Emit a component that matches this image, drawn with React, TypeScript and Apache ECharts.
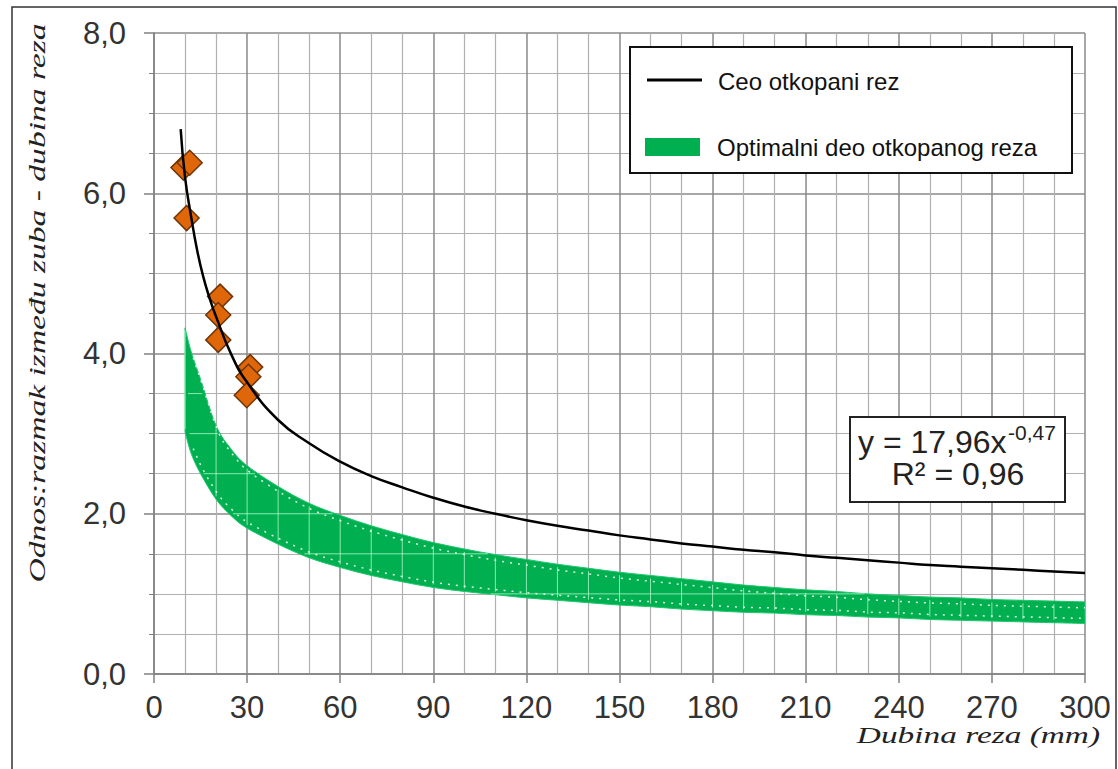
import React, { useEffect, useRef } from "react";
import * as echarts from "echarts";

// ---- Data ----
const curveX = [8.6, 10, 12, 14, 16, 18, 20, 25, 30, 40, 50, 60, 70, 80, 90, 100, 110, 120, 130, 140, 150, 160, 170, 180, 190, 200, 210, 220, 230, 240, 250, 260, 270, 280, 290, 300];
const curveY = [6.8, 6.2, 5.7, 5.27, 4.94, 4.68, 4.46, 3.98, 3.64, 3.17, 2.88, 2.65, 2.47, 2.33, 2.2, 2.09, 2.0, 1.92, 1.85, 1.79, 1.73, 1.68, 1.63, 1.59, 1.55, 1.52, 1.48, 1.45, 1.42, 1.39, 1.36, 1.34, 1.32, 1.3, 1.28, 1.26];

const bandX = [10, 12, 15, 20, 25, 30, 40, 50, 60, 70, 80, 90, 100, 110, 120, 130, 140, 150, 160, 170, 180, 190, 200, 210, 220, 230, 240, 250, 260, 270, 280, 290, 300];
const bandUpper = [4.32, 4.02, 3.68, 3.1, 2.8, 2.6, 2.34, 2.13, 1.98, 1.85, 1.74, 1.64, 1.56, 1.49, 1.43, 1.37, 1.32, 1.27, 1.23, 1.19, 1.15, 1.11, 1.08, 1.05, 1.03, 1.0, 0.98, 0.96, 0.95, 0.93, 0.92, 0.91, 0.9];
const bandLower = [3.02, 2.75, 2.5, 2.18, 1.97, 1.82, 1.62, 1.45, 1.33, 1.23, 1.15, 1.08, 1.03, 0.99, 0.95, 0.92, 0.89, 0.86, 0.84, 0.81, 0.79, 0.77, 0.76, 0.74, 0.73, 0.71, 0.7, 0.68, 0.67, 0.66, 0.65, 0.64, 0.63];

const measX = [9.5, 11.5, 10.5, 21.3, 20.7, 20.7, 31, 30.4, 29.9];
const measY = [6.32, 6.38, 5.69, 4.71, 4.48, 4.17, 3.83, 3.71, 3.48];

const legendLine = "Ceo otkopani rez";
const legendBand = "Optimalni deo otkopanog reza";
const eqMain = "y = 17,96x";
const eqExp = "-0,47";
const eqR2 = "R² = 0,96";
const xTitle = "Dubina reza (mm)";
const yTitle = "Odnos:razmak između zuba - dubina reza";

function smoothPath(pts: number[][], move: boolean): string {
  let d = (move ? "M" : "L") + pts[0][0] + "," + pts[0][1];
  for (let i = 0; i < pts.length - 1; i++) {
    const p0 = pts[i - 1] || pts[i];
    const p1 = pts[i];
    const p2 = pts[i + 1];
    const p3 = pts[i + 2] || p2;
    const c1 = [p1[0] + (p2[0] - p0[0]) / 6, p1[1] + (p2[1] - p0[1]) / 6];
    const c2 = [p2[0] - (p3[0] - p1[0]) / 6, p2[1] - (p3[1] - p1[1]) / 6];
    d += " C" + c1[0] + "," + c1[1] + " " + c2[0] + "," + c2[1] + " " + p2[0] + "," + p2[1];
  }
  return d;
}

function interp(xs: number[], ys: number[], x: number): number {
  if (x <= xs[0]) return ys[0];
  for (let i = 0; i < xs.length - 1; i++) {
    if (x <= xs[i + 1]) {
      const t = (x - xs[i]) / (xs[i + 1] - xs[i]);
      return ys[i] + t * (ys[i + 1] - ys[i]);
    }
  }
  return ys[ys.length - 1];
}

const SANS = "'Liberation Sans', Arial, sans-serif";
const SERIF = "'Liberation Serif', 'Times New Roman', serif";

export default function App() {
  const ref = useRef<HTMLDivElement>(null);
  useEffect(() => {
    document.body.style.margin = "0";
    if (!ref.current) return;
    const chart = echarts.init(ref.current, null, { renderer: "svg" });
    const gridColorMinor = "#b0b0b0";
    const gridColorMajor = "#8a8a8a";
    const option: any = {
      animation: false,
      backgroundColor: "#fff",
      grid: { left: 154, right: 33, top: 33, bottom: 95, containLabel: false },
      xAxis: {
        type: "value",
        min: 0,
        max: 300,
        interval: 30,
        axisLine: { show: true, onZero: false, lineStyle: { color: "#808080", width: 1.5 } },
        axisTick: { show: true, length: 9, lineStyle: { color: "#808080", width: 1.5 } },
        axisLabel: { fontSize: 31, fontFamily: SANS, color: "#333", margin: 18 },
        splitLine: { show: true, lineStyle: { color: gridColorMajor, width: 1.5 } },
        minorTick: { show: false, splitNumber: 3 },
        minorSplitLine: { show: true, lineStyle: { color: gridColorMinor, width: 1.2 } },
      },
      yAxis: {
        type: "value",
        min: 0,
        max: 8,
        interval: 2,
        axisLine: { show: true, lineStyle: { color: "#808080", width: 1.5 } },
        axisTick: { show: true, length: 10, lineStyle: { color: "#808080", width: 1.5 } },
        axisLabel: {
          fontSize: 31,
          fontFamily: SANS,
          color: "#333",
          margin: 28,
          formatter: (v: number) => v.toFixed(1).replace(".", ","),
        },
        splitLine: { show: true, lineStyle: { color: gridColorMajor, width: 1.5 } },
        minorTick: { show: true, splitNumber: 4, length: 5, lineStyle: { color: "#808080" } },
        minorSplitLine: { show: true, lineStyle: { color: gridColorMinor, width: 1.2 } },
      },
      series: [
        {
          type: "custom",
          name: legendBand,
          clip: true,
          z: 2,
          data: [0],
          renderItem: (params: any, api: any) => {
            const up = bandX.map((x, i) => api.coord([x, bandUpper[i]]));
            const lo = bandX.map((x, i) => api.coord([x, bandLower[i]]));
            const d = smoothPath(up, true) + " " + smoothPath(lo.slice().reverse(), false) + " Z";
            const children: any[] = [
              { type: "path", shape: { pathData: d }, style: { fill: "#00B050", stroke: "#1fc76e", lineWidth: 1 } },
            ];
            const light = "rgba(200,255,215,0.7)";
            for (let gx = 10; gx <= 290; gx += 10) {
              const yu = interp(bandX, bandUpper, gx);
              const yl = interp(bandX, bandLower, gx);
              const a = api.coord([gx, yu]);
              const b = api.coord([gx, yl]);
              children.push({
                type: "line",
                shape: { x1: a[0], y1: a[1] + 3, x2: b[0], y2: b[1] - 3 },
                style: { stroke: light, lineWidth: 1 },
              });
            }
            for (let gy = 0.5; gy <= 4.5; gy += 0.5) {
              let minX = Infinity;
              let maxX = -Infinity;
              for (let sx = 10; sx <= 300; sx += 0.5) {
                const yu = interp(bandX, bandUpper, sx);
                const yl = interp(bandX, bandLower, sx);
                if (gy <= yu && gy >= yl) {
                  if (sx < minX) minX = sx;
                  if (sx > maxX) maxX = sx;
                }
              }
              if (minX < maxX) {
                const a = api.coord([minX, gy]);
                const b = api.coord([maxX, gy]);
                children.push({
                  type: "line",
                  shape: { x1: a[0] + 3, y1: a[1], x2: b[0] - 3, y2: b[1] },
                  style: { stroke: light, lineWidth: 1 },
                });
              }
            }
            const upIn = up.slice(1).map((p: number[]) => [p[0] + 2, p[1] + 6]);
            const loIn = lo.slice(1).map((p: number[]) => [p[0] + 2, p[1] - 5]);
            children.push({
              type: "path",
              shape: { pathData: smoothPath(upIn, true) },
              style: { fill: "none", stroke: "rgba(255,255,255,0.85)", lineWidth: 1.5, lineDash: [2, 6] },
            });
            children.push({
              type: "path",
              shape: { pathData: smoothPath(loIn, true) },
              style: { fill: "none", stroke: "rgba(255,255,255,0.85)", lineWidth: 1.5, lineDash: [2, 6] },
            });
            return { type: "group", children };
          },
        },
        {
          type: "scatter",
          name: "Mereni podaci",
          z: 3,
          data: measX.map((x, i) => [x, measY[i]]),
          symbol: "diamond",
          symbolSize: 25,
          itemStyle: { color: "#E0660A", borderColor: "#6E3608", borderWidth: 1.5, opacity: 1 },
        },
        {
          type: "line",
          name: legendLine,
          z: 4,
          data: curveX.map((x, i) => [x, curveY[i]]),
          smooth: true,
          showSymbol: false,
          symbol: "none",
          lineStyle: { color: "#000", width: 2.5 },
        },
      ],
      graphic: [
        {
          type: "rect",
          z: 100,
          shape: { x: 12, y: 7, width: 1104, height: 775 },
          style: { fill: "none", stroke: "#333", lineWidth: 1.5 },
        },
        {
          type: "rect",
          z: 100,
          shape: { x: 630, y: 47, width: 442, height: 126 },
          style: { fill: "#fff", stroke: "#111", lineWidth: 2 },
        },
        {
          type: "line",
          z: 101,
          shape: { x1: 647, y1: 80, x2: 702, y2: 80 },
          style: { stroke: "#000", lineWidth: 3 },
        },
        {
          type: "text",
          z: 101,
          x: 718,
          y: 81,
          style: {
            text: legendLine,
            fontSize: 24,
            fontFamily: SANS,
            fill: "#111",
            textAlign: "left",
            align: "left",
            textVerticalAlign: "middle",
            verticalAlign: "middle",
          },
        },
        {
          type: "rect",
          z: 101,
          shape: { x: 645, y: 138, width: 55, height: 18 },
          style: { fill: "#00B050" },
        },
        {
          type: "text",
          z: 101,
          x: 717,
          y: 147,
          style: {
            text: legendBand,
            fontSize: 24,
            fontFamily: SANS,
            fill: "#111",
            textAlign: "left",
            align: "left",
            textVerticalAlign: "middle",
            verticalAlign: "middle",
          },
        },
        {
          type: "rect",
          z: 100,
          shape: { x: 850, y: 417, width: 215, height: 85 },
          style: { fill: "#fff", stroke: "#222", lineWidth: 2 },
        },
        {
          type: "text",
          z: 101,
          x: 858,
          y: 442,
          style: {
            text: eqMain,
            fontSize: 32,
            fontFamily: SANS,
            fill: "#222",
            textAlign: "left",
            align: "left",
            textVerticalAlign: "middle",
            verticalAlign: "middle",
          },
        },
        {
          type: "text",
          z: 101,
          x: 1008,
          y: 432,
          style: {
            text: eqExp,
            fontSize: 21,
            fontFamily: SANS,
            fill: "#222",
            textAlign: "left",
            align: "left",
            textVerticalAlign: "middle",
            verticalAlign: "middle",
          },
        },
        {
          type: "text",
          z: 101,
          x: 958,
          y: 474,
          style: {
            text: eqR2,
            fontSize: 32,
            fontFamily: SANS,
            fill: "#222",
            textAlign: "center",
            align: "center",
            textVerticalAlign: "middle",
            verticalAlign: "middle",
          },
        },
        {
          type: "text",
          z: 101,
          x: 1100,
          y: 735,
          scaleX: 1.45,
          style: {
            text: xTitle,
            fontSize: 23,
            fontStyle: "italic",
            fontFamily: SERIF,
            fill: "#222",
            textAlign: "right",
            align: "right",
            textVerticalAlign: "middle",
            verticalAlign: "middle",
          },
        },
        {
          type: "text",
          z: 101,
          x: 37,
          y: 303,
          rotation: Math.PI / 2,
          scaleX: 1.46,
          style: {
            text: yTitle,
            fontSize: 23,
            fontStyle: "italic",
            fontFamily: SERIF,
            fill: "#222",
            textAlign: "center",
            align: "center",
            textVerticalAlign: "middle",
            verticalAlign: "middle",
          },
        },
      ],
    };
    chart.setOption(option);
    return () => chart.dispose();
  }, []);
  return <div ref={ref} style={{ width: 1118, height: 769, overflow: "hidden" }} />;
}
